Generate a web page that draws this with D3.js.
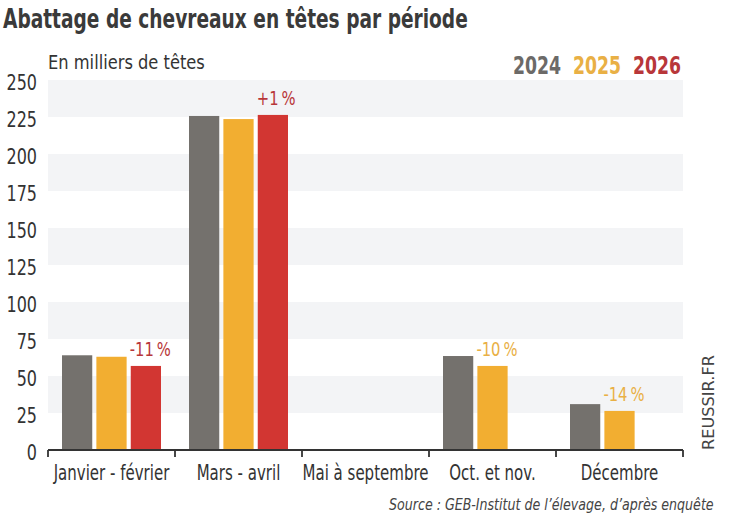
<!DOCTYPE html>
<html>
<head>
<meta charset="utf-8">
<script src="https://cdn.jsdelivr.net/npm/d3@7"></script>
<style>
  body { margin: 0; background: #fff; }
  text { font-family: "DejaVu Sans", sans-serif; }
</style>
</head>
<body>
<script>
// chart data
let categories = ["Janvier - février", "Mars - avril", "Mai à septembre", "Oct. et nov.", "Décembre"];
let years = ["2024", "2025", "2026"];
let v2024 = [64, 225.7, null, 63.5, 31];
let v2025 = [63, 223.6, null, 56.8, 26.4];
let v2026 = [56.8, 226.4, null, null, null];
let changes = ["-11 %", "+1 %", null, "-10 %", "-14 %"];
let changeYear = ["2026", "2026", null, "2025", "2025"];
let yTicks = [0, 25, 50, 75, 100, 125, 150, 175, 200, 225, 250];

let w = 747, h = 518;
let barColor = {"2024": "#74716d", "2025": "#f2ae31", "2026": "#d23632"};
let textColor = {"2024": "#6c6a68", "2025": "#e9b045", "2026": "#b8373a"};

// the reference uses a condensed face: squeeze text horizontally with a transform
function squeeze(sel, k, extra) {
    sel.each(function () {
        let t = d3.select(this);
        let tx = +t.attr("x"), ty = +t.attr("y");
        t.attr("x", 0).attr("y", 0)
            .attr("transform", "translate(" + tx + "," + ty + ")" + (extra || "") + " scale(" + k + ",1)");
    });
}
function fit(sel, width, extra) {
    sel.each(function () {
        let k = width / this.getComputedTextLength();
        squeeze(d3.select(this), k, extra);
    });
}

let svg = d3.select("body").append("svg")
    .attr("width", w)
    .attr("height", h);

// scales
let x = d3.scaleBand().domain(categories).range([48, 683]);
let xi = d3.scaleBand().domain(years).range([14, 113]).paddingInner(0.12);
let y = d3.scaleLinear().domain([0, 250]).range([450, 80]);

// shaded bands: 25-50, 75-100, ... 225-250
let bandLows = yTicks.filter((t, i) => i % 2 == 1);
svg.selectAll(".band").data(bandLows).enter().append("rect")
    .attr("x", 48)
    .attr("y", d => y(d + 25))
    .attr("width", 683 - 48)
    .attr("height", d => y(d) - y(d + 25))
    .attr("fill", "#f3f4f6");

// y tick labels
svg.selectAll(".ytick").data(yTicks).enter().append("text")
    .attr("x", 37)
    .attr("y", d => y(d) + 10)
    .attr("text-anchor", "end")
    .attr("font-size", 20.5)
    .attr("fill", "#333")
    .text(d => d)
    .call(squeeze, 0.78);

// bars
let rows = categories.map((c, i) => ({cat: c, vals: [v2024[i], v2025[i], v2026[i]]}));
let groups = svg.selectAll(".grp").data(rows).enter().append("g")
    .attr("transform", d => "translate(" + x(d.cat) + ",0)");
groups.selectAll("rect")
    .data(d => years.map((yr, j) => ({yr: yr, v: d.vals[j]})).filter(e => e.v != null))
    .enter().append("rect")
    .attr("x", d => xi(d.yr))
    .attr("y", d => y(d.v))
    .attr("width", xi.bandwidth())
    .attr("height", d => y(0) - y(d.v))
    .attr("fill", d => barColor[d.yr]);

// change labels
categories.forEach((c, i) => {
    if (!changes[i]) return;
    let yr = changeYear[i];
    let v = yr == "2026" ? v2026[i] : v2025[i];
    svg.append("text")
        .attr("x", x(c) + xi(yr) - 1)
        .attr("y", y(v) - 10)
        .attr("font-size", 20)
        .attr("fill", textColor[yr])
        .text(changes[i].replace(" ", "\u2009"))
        .call(squeeze, 0.74);
});

// x axis
let xAxis = svg.append("g")
    .attr("transform", "translate(0,450)");
xAxis.append("line")
    .attr("x1", 48).attr("x2", 683)
    .attr("stroke", "#333").attr("stroke-width", 1.8);
let bounds = categories.map(c => x(c)).concat([683]);
xAxis.selectAll(".tk").data(bounds).enter().append("line")
    .attr("x1", d => d).attr("x2", d => d)
    .attr("y1", 0).attr("y2", 7)
    .attr("stroke", "#333").attr("stroke-width", 1.8);
xAxis.selectAll(".lbl").data(categories).enter().append("text")
    .attr("x", d => x(d) + x.bandwidth() / 2)
    .attr("y", 30)
    .attr("text-anchor", "middle")
    .attr("font-size", 21)
    .attr("fill", "#333")
    .text(d => d)
    .call(squeeze, 0.715);

// titles
svg.append("text")
    .attr("x", 3).attr("y", 28)
    .attr("font-size", 26)
    .attr("font-weight", "bold")
    .attr("fill", "#3a3a3a")
    .text("Abattage de chevreaux en têtes par période")
    .call(fit, 465);
svg.append("text")
    .attr("x", 48).attr("y", 69)
    .attr("font-size", 20)
    .attr("fill", "#333")
    .text("En milliers de têtes")
    .call(fit, 157);

// legend
let legX = [513, 573, 633];
years.forEach((yr, j) => {
    svg.append("text")
        .attr("x", legX[j]).attr("y", 74)
        .attr("font-size", 24)
        .attr("font-weight", "bold")
        .attr("fill", textColor[yr])
        .text(yr)
        .call(squeeze, 0.72);
});

// credit and source
svg.append("text")
    .attr("x", 714).attr("y", 450)
    .attr("font-size", 16)
    .attr("fill", "#444")
    .text("REUSSIR.FR")
    .call(fit, 95, " rotate(-90)");
svg.append("text")
    .attr("x", 389).attr("y", 510)
    .attr("font-size", 16)
    .attr("font-style", "italic")
    .attr("fill", "#444")
    .text("Source : GEB-Institut de l’élevage, d’après enquête")
    .call(fit, 325);
</script>
</body>
</html>
